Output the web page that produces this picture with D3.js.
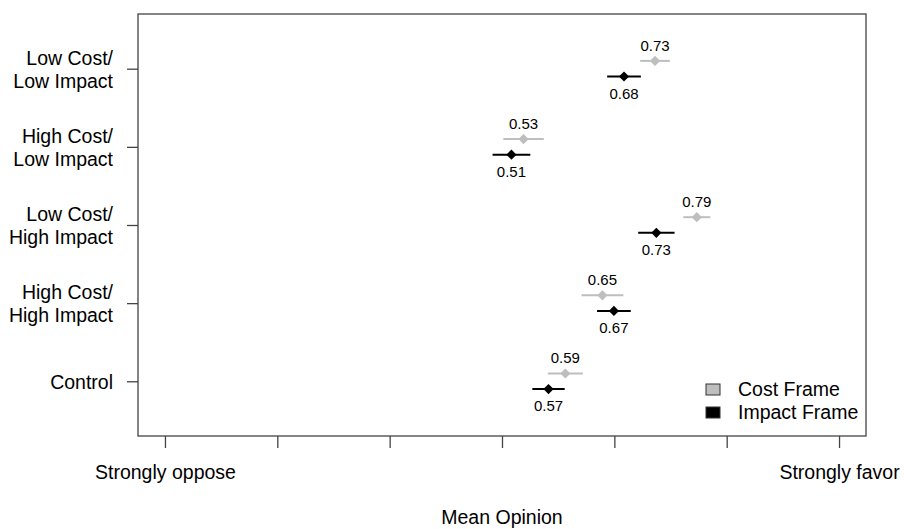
<!DOCTYPE html>
<html>
<head>
<meta charset="utf-8">
<script src="https://cdn.jsdelivr.net/npm/d3@7"></script>
<style>
  body { margin: 0; background: #fff; }
  text { font-family: "Liberation Sans", Arial, sans-serif; fill: #000; }
</style>
</head>
<body>
<svg id="chart" width="904" height="529"></svg>
<script>
// categories, top to bottom
const categories = [
    ["Low Cost/", "Low Impact"],
    ["High Cost/", "Low Impact"],
    ["Low Cost/", "High Impact"],
    ["High Cost/", "High Impact"],
    ["Control"]
];
// mean opinion (0 = strongly oppose, 1 = strongly favor) and error half-widths
const costMean = [0.727, 0.532, 0.789, 0.649, 0.594];
const costErr = [0.022, 0.030, 0.020, 0.031, 0.026];
const impactMean = [0.681, 0.514, 0.729, 0.666, 0.569];
const impactErr = [0.025, 0.028, 0.027, 0.025, 0.024];
const xTicks = [0, 1 / 6, 2 / 6, 3 / 6, 4 / 6, 5 / 6, 1];
const xTickLabels = ["Strongly oppose", "", "", "", "", "", "Strongly favor"];
const legendLabels = ["Cost Frame", "Impact Frame"];

const costColor = "#bebebe";
const impactColor = "#000000";
const boxColor = "#444";
const labelSize = "19.5px";

const svg = d3.select("#chart");

const x = d3.scaleLinear().domain([-0.04, 1.04]).range([138, 866]);
const y = d3.scaleLinear().domain([-0.7, 4.7]).range([14, 436]);
const offset = 0.1; // vertical shift of each series around the category tick

// plot box
svg.append("rect")
    .attr("x", x.range()[0])
    .attr("y", y.range()[0])
    .attr("width", x.range()[1] - x.range()[0])
    .attr("height", y.range()[1] - y.range()[0])
    .attr("fill", "none")
    .attr("stroke", boxColor)
    .attr("stroke-width", 1.3);

// x axis: ticks only, end labels
const xAxis = svg.append("g")
    .attr("transform", `translate(0,${y.range()[1]})`)
    .call(d3.axisBottom(x).tickValues(xTicks).tickSize(12).tickFormat((d, i) => xTickLabels[i]));
xAxis.select(".domain").remove();
xAxis.selectAll(".tick line").attr("stroke", boxColor).attr("stroke-width", 1.3);
xAxis.selectAll(".tick text")
    .attr("y", 43)
    .attr("dy", 0)
    .style("font-size", labelSize)
    .style("font-family", "'Liberation Sans', Arial, sans-serif")
    .attr("fill", "#000");

// y axis with two-line labels
const yAxis = svg.append("g")
    .attr("transform", `translate(${x.range()[0]},0)`)
    .call(d3.axisLeft(y).tickValues(d3.range(categories.length)).tickSize(11).tickFormat(""));
yAxis.select(".domain").remove();
yAxis.selectAll(".tick line").attr("stroke", boxColor).attr("stroke-width", 1.3);
yAxis.selectAll(".tick").each(function (d) {
    const lines = categories[d];
    const t = d3.select(this).append("text")
        .attr("x", -25)
        .attr("text-anchor", "end")
        .style("font-size", labelSize);
    const lh = 23;
    const first = 7 - (lines.length - 1) * lh / 2;
    lines.forEach((s, i) => {
        t.append("tspan").attr("x", -25).attr("y", first + i * lh).text(s);
    });
});

// axis title
svg.append("text")
    .attr("x", (x.range()[0] + x.range()[1]) / 2)
    .attr("y", 524)
    .attr("text-anchor", "middle")
    .style("font-size", labelSize)
    .text("Mean Opinion");

// series
const fmt = d3.format(".2f");
const series = [
    { mean: costMean, err: costErr, color: costColor, shift: -offset, above: true },
    { mean: impactMean, err: impactErr, color: impactColor, shift: offset, above: false }
];
const diamond = d3.symbol().type(d3.symbolSquare).size(52);

series.forEach(function (s) {
    const rows = s.mean.map((m, i) => ({ m: m, e: s.err[i], yy: y(i + s.shift) }));
    const g = svg.append("g");

    g.selectAll("line")
        .data(rows)
        .enter()
        .append("line")
        .attr("x1", d => x(d.m - d.e))
        .attr("x2", d => x(d.m + d.e))
        .attr("y1", d => d.yy)
        .attr("y2", d => d.yy)
        .attr("stroke", s.color)
        .attr("stroke-width", 2);

    g.selectAll("path")
        .data(rows)
        .enter()
        .append("path")
        .attr("d", diamond)
        .attr("transform", d => `translate(${x(d.m)},${d.yy}) rotate(45)`)
        .attr("fill", s.color);

    g.selectAll("text")
        .data(rows)
        .enter()
        .append("text")
        .attr("x", d => x(d.m))
        .attr("y", d => s.above ? d.yy - 10 : d.yy + 22)
        .attr("text-anchor", "middle")
        .style("font-size", "15px")
        .text(d => fmt(d.m));
});

// legend
const legend = svg.append("g").attr("transform", "translate(706,384)");
legendLabels.forEach(function (label, i) {
    legend.append("rect")
        .attr("x", 0)
        .attr("y", i * 23)
        .attr("width", 14)
        .attr("height", 11)
        .attr("fill", i === 0 ? costColor : impactColor)
        .attr("stroke", "#333")
        .attr("stroke-width", 1);
    legend.append("text")
        .attr("x", 32)
        .attr("y", i * 23 + 12)
        .style("font-size", labelSize)
        .text(label);
});
</script>
</body>
</html>
